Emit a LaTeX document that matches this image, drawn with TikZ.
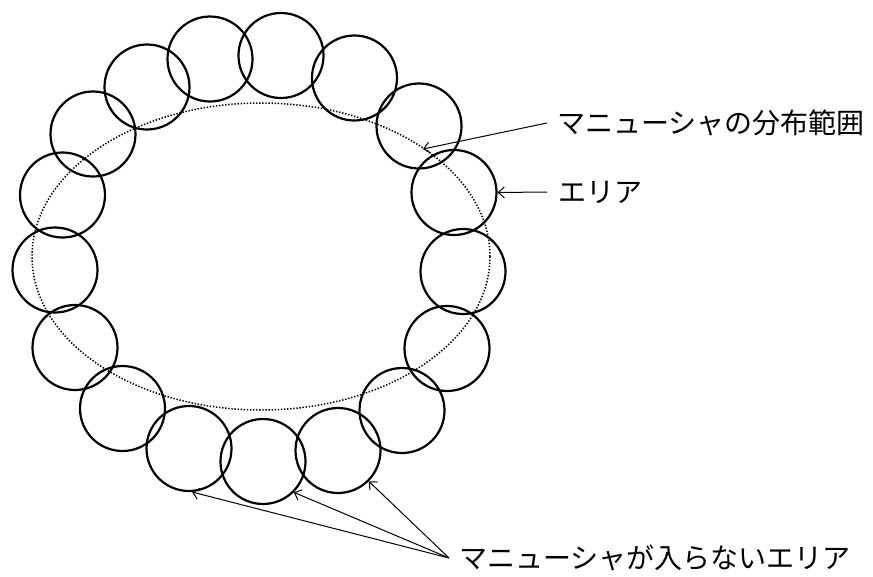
\documentclass[tikz,border=0pt]{standalone}
\usepackage{fontspec}
\newfontfamily\jp{Noto Sans CJK JP}
\usetikzlibrary{arrows.meta}
\begin{document}
\begin{tikzpicture}[x=1pt,y=-1pt,
  ring/.style={draw, circle, line width=2.2pt, minimum size=85pt, inner sep=0pt},
  lbl/.style={font=\jp\fontsize{28}{34}\selectfont, anchor=west, inner sep=0pt},
  ptr/.style={line width=1pt, -{Straight Barb[length=6pt,width=11pt]}}]
\useasboundingbox (0,0) rectangle (873,576);
\draw[line width=1.5pt, dash pattern=on 1.4pt off 1.7pt] (261,256.5) ellipse [x radius=229, y radius=153.5];
\foreach \n/\x/\y in {A/55/270, B/62.5/195, C/93/134, D/147/87, E/210/59, F/281/55.5,
  G/354.5/78, H/419/126, I/454/192.5, J/463/271.5, K/447/348.5, L/402/410.5,
  M/338/450.5, Q/263/461.5, P/189/448.5, O/122.5/408.5, N/75/347.5}
  \node[ring] (c\n) at (\x,\y) {};
\node[lbl] (l1) at (557,123) {マニューシャの分布範囲};
\node[lbl] (l2) at (558,192) {エリア};
\node[lbl] (l3) at (459,558) {マニューシャが入らないエリア};
\coordinate (t1) at (423,149);
\coordinate (hub) at (449,558);
\draw[ptr] ([xshift=-10pt]l1.west) -- (t1);
\draw[ptr] ([xshift=-11pt]l2.west) -- (cI.east);
\draw[ptr] (hub) -- (cP.-86);
\draw[ptr] (hub) -- (cQ.-45);
\draw[ptr] (hub) -- (cM.-45);
\end{tikzpicture}
\end{document}
